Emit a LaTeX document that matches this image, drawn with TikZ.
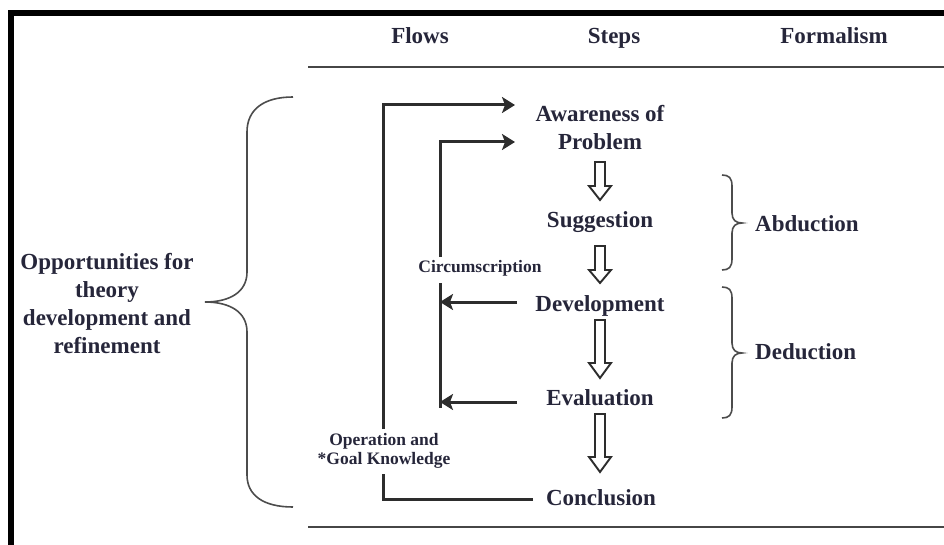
\documentclass[tikz,border=0pt]{standalone}
\usepackage{fontspec}
\setmainfont{Liberation Serif}
\usetikzlibrary{arrows.meta}
\definecolor{ink}{RGB}{38,38,58}
\definecolor{wire}{RGB}{45,45,45}
% hollow block arrow pointing down: x, top y, y where the head starts, tip y
\newcommand\hollowdown[4]{%
  \draw[hollow] (#1-5,#2) -- (#1+5,#2) -- (#1+5,#3) -- (#1+11,#3) -- (#1,#4)
    -- (#1-11,#3) -- (#1-5,#3) -- cycle;}
\begin{document}
\begin{tikzpicture}[x=1pt,y=-1pt,
  every node/.style={text=ink,inner sep=0pt},
  bigtext/.style={font=\fontsize{23}{28}\selectfont\bfseries},
  hdr/.style={bigtext,anchor=base},
  stepname/.style={bigtext,anchor=base},
  smalllabel/.style={font=\fontsize{17.5}{19}\selectfont\bfseries,align=center},
  flow/.style={draw=wire,line width=3pt},
  flowarrow/.style={flow,-{Stealth[length=13pt,width=16pt,inset=3pt]}},
  hollow/.style={draw=wire,line width=1.9pt,fill=white,line join=miter},
  brace/.style={draw=wire!85,line width=1.6pt},
  rule/.style={draw=gray!55!black,line width=2.2pt}]
\useasboundingbox (0,0) rectangle (944,545);

% frame edges
\fill[black] (8,10) rectangle (944,16);
\fill[black] (8,10) rectangle (14,545);

% column headers and rules
\node[hdr] (hflows) at (420,44) {Flows};
\node[hdr] (hsteps) at (614,44) {Steps};
\node[hdr] (hform) at (834,44) {Formalism};
\draw[rule] (308,67) -- (944,67);
\draw[rule] (308,527) -- (944,527);

% process steps
\node[stepname] (aware) at (600,122) {Awareness of};
\node[stepname] (prob) at (600,150) {Problem};
\node[stepname] (sugg) at (600,228) {Suggestion};
\node[stepname] (dev) at (600,311) {Development};
\node[stepname] (eval) at (600,405) {Evaluation};
\node[stepname] (concl) at (601,505) {Conclusion};

\hollowdown{600}{162}{186}{200}
\hollowdown{600}{246}{270}{283}
\hollowdown{600}{320}{363}{378}
\hollowdown{600}{414}{457}{472}

% formalism braces
\node[hdr] (abd) at (755,232) [anchor=base west] {Abduction};
\node[hdr] (ded) at (755,359) [anchor=base west] {Deduction};
\draw[brace] (722,175) .. controls (729,175) and (732,178) .. (732,186) -- (732,213)
  .. controls (732,220) and (736,223) .. (742,223)
  .. controls (736,223) and (732,226) .. (732,233) -- (732,259)
  .. controls (732,267) and (729,270) .. (722,270);
\draw[brace] (722,287) .. controls (729,287) and (732,290) .. (732,298) -- (732,343)
  .. controls (732,350) and (736,353) .. (742,353)
  .. controls (736,353) and (732,356) .. (732,363) -- (732,407)
  .. controls (732,415) and (729,418) .. (722,418);

% theory brace on the left
\node[bigtext,align=center,anchor=north] (theory) at (107,253)
  {Opportunities for\\theory\\development and\\refinement};
\draw[brace] (293,97) .. controls (263,97) and (247,110) .. (247,132) -- (247,272)
  .. controls (247,292) and (230,302) .. (205,302)
  .. controls (230,302) and (247,312) .. (247,332) -- (247,475)
  .. controls (247,495) and (263,507) .. (293,507);

% flows
\coordinate (a1) at (515,105);
\coordinate (a2) at (515,142);
\node[smalllabel] (circ) at (480,268) {Circumscription};
\node[smalllabel] (ogk) at (384,451) {Operation and\\*Goal Knowledge};

\coordinate (ctop) at (440,257);
\coordinate (cbot) at (440,283);
\coordinate (cend) at (440,408);
\draw[flowarrow] (ctop) |- (a2);
\draw[flow] (cbot) -- (cend);
\coordinate (devout) at (517,302);
\coordinate (evalout) at (517,402);
\draw[flowarrow] (devout) -- (devout -| cend);
\draw[flowarrow] (evalout) -- (evalout -| cend);

\coordinate (conclout) at (533,499);
\coordinate (olow) at (383,474);
\coordinate (ohigh) at (383,429);
\draw[flow] (conclout) -| (olow);
\draw[flowarrow] (ohigh) |- (a1);
\end{tikzpicture}
\end{document}
